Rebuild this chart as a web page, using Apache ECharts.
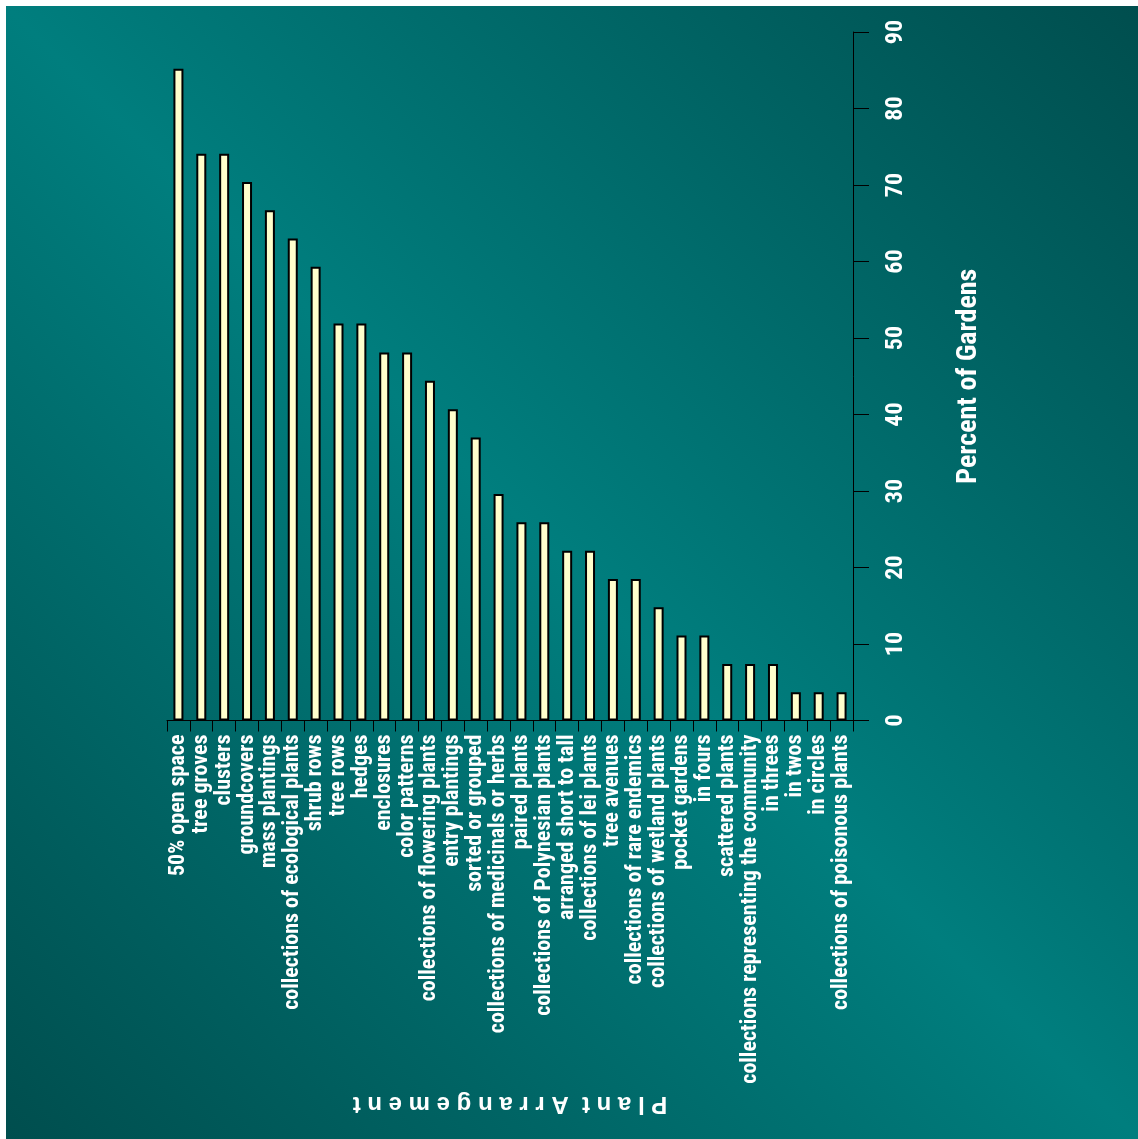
<!DOCTYPE html>
<html>
<head>
<meta charset="utf-8">
<title>Plant Arrangement</title>
<script src="https://cdn.jsdelivr.net/npm/echarts@6/dist/echarts.min.js"></script>
<style>
  html, body { margin: 0; padding: 0; background: #ffffff; }
  #chart { position: absolute; left: 6px; top: 6px; width: 1132px; height: 1133px; }
</style>
</head>
<body>
<div id="chart"></div>
<script>
// Plant arrangements found in the gardens
const categories = [
  '50% open space', 'tree groves', 'clusters', 'groundcovers', 'mass plantings',
  'collections of ecological plants', 'shrub rows', 'tree rows', 'hedges', 'enclosures',
  'color patterns', 'collections of flowering plants', 'entry plantings', 'sorted or grouped',
  'collections of medicinals or herbs', 'paired plants', 'collections of Polynesian plants',
  'arranged short to tall', 'collections of lei plants', 'tree avenues',
  'collections of rare endemics', 'collections of wetland plants', 'pocket gardens', 'in fours',
  'scattered plants', 'collections representing the community', 'in threes', 'in twos',
  'in circles', 'collections of poisonous plants'
];

// Percent of gardens showing each arrangement
const percents = [
  85.2, 74.1, 74.1, 70.4, 66.7,
  63.0, 59.3, 51.9, 51.9, 48.1,
  48.1, 44.4, 40.7, 37.0,
  29.6, 25.9, 25.9,
  22.2, 22.2, 18.5,
  18.5, 14.8, 11.1, 11.1,
  7.4, 7.4, 7.4, 3.7,
  3.7, 3.7
];

const valueTicks = { min: 0, max: 90, step: 10 };
const axisTitles = { category: 'P l a n t  A r r a n g e m e n t', value: 'Percent of Gardens' };

const narrow = '"Liberation Sans Narrow", "Roboto Condensed", "DejaVu Sans Condensed", sans-serif';

const chart = echarts.init(document.getElementById('chart'), null, { renderer: 'canvas' });

chart.setOption({
  animation: false,
  backgroundColor: {
    type: 'linear', x: 1, y: 0, x2: 0, y2: 1,
    colorStops: [
      { offset: 0, color: '#004e4e' },
      { offset: 0.5, color: '#007e7e' },
      { offset: 1, color: '#004e4e' }
    ]
  },
  grid: {
    left: 161, right: 285, top: 26, bottom: 418.5,
    containLabel: false, outerBoundsMode: 'none'
  },
  xAxis: {
    type: 'category',
    data: categories,
    boundaryGap: true,
    axisLine: { show: true, lineStyle: { color: '#000', width: 1 } },
    axisTick: { show: true, alignWithLabel: false, length: 11, lineStyle: { color: '#000', width: 1 } },
    axisLabel: {
      interval: 0, rotate: 90, margin: 14,
      color: '#ffffff', fontFamily: narrow, fontWeight: 'bold', fontSize: 22
    },
    name: axisTitles.category,
    nameLocation: 'middle',
    nameRotate: 180,
    nameGap: 368,
    nameTextStyle: { color: '#ffffff', fontFamily: '"Liberation Sans", Arial, sans-serif', fontWeight: 'bold', fontSize: 24 }
  },
  yAxis: {
    type: 'value',
    position: 'right',
    min: valueTicks.min, max: valueTicks.max, interval: valueTicks.step,
    splitLine: { show: false },
    axisLine: { show: true, lineStyle: { color: '#000', width: 1 } },
    axisTick: { show: true, length: 16, lineStyle: { color: '#000', width: 1 } },
    axisLabel: {
      rotate: 90, margin: 31,
      color: '#ffffff', fontFamily: narrow, fontWeight: 'bold', fontSize: 24
    },
    name: axisTitles.value,
    nameLocation: 'middle',
    nameRotate: 90,
    nameGap: 102,
    nameTextStyle: { color: '#ffffff', fontFamily: narrow, fontWeight: 'bold', fontSize: 28 }
  },
  series: [{
    type: 'bar',
    data: percents,
    barWidth: 10,
    itemStyle: { color: '#ffffcc', borderColor: '#000000', borderWidth: 2 }
  }]
});
</script>
</body>
</html>
